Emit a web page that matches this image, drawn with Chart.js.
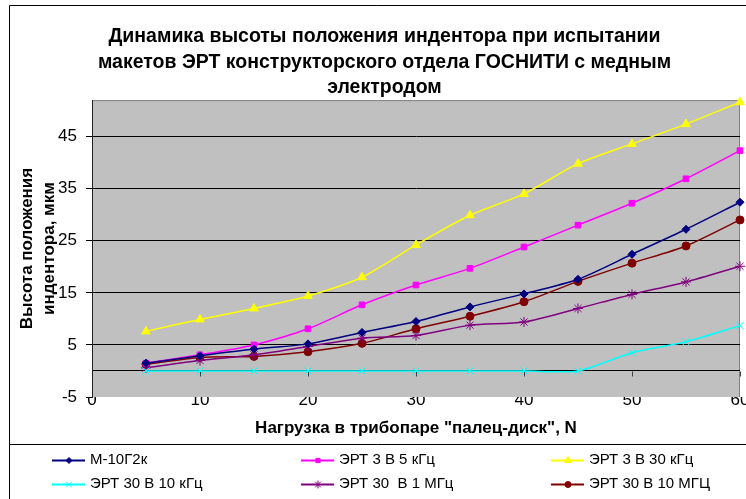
<!DOCTYPE html>
<html>
<head>
<meta charset="utf-8">
<script src="https://cdn.jsdelivr.net/npm/chart.js@4/dist/chart.umd.min.js"></script>
<style>
  html, body { margin: 0; padding: 0; background: #fff; }
  #wrap { width: 746px; height: 499px; }
</style>
</head>
<body>
<div id="wrap"><canvas id="chart" width="746" height="499"></canvas></div>
<script>
"use strict";

// нагрузка, N
var loads = [5, 10, 15, 20, 25, 30, 35, 40, 45, 50, 55, 60];

// высота положения индентора, мкм
var m10g2k   = [1.5, 2.9, 4.2, 5.2, 7.4, 9.5, 12.3, 14.8, 17.6, 22.4, 27.2, 32.4];
var ert3_5k  = [1.5, 3.1, 5.0, 8.1, 12.7, 16.5, 19.7, 23.8, 28.0, 32.2, 36.9, 42.3];
var ert3_30k = [7.6, 9.9, 12.0, 14.4, 18.0, 24.2, 29.9, 34.0, 39.8, 43.6, 47.4, 51.6];
var ert30_10k = [0, 0, 0, 0, 0, 0, 0, 0, 0, 3.5, 5.6, 8.7];
var ert30_1M  = [0.6, 2.0, 3.1, 4.7, 6.3, 6.8, 8.8, 9.4, 12.0, 14.7, 17.1, 20.1];
var ert30_10M = [1.3, 2.6, 2.8, 3.7, 5.3, 8.1, 10.5, 13.3, 17.2, 20.7, 24.0, 29.0];

var seriesNames = ["М-10Г2к", "ЭРТ 3 В 5 кГц", "ЭРТ 3 В 30 кГц",
                   "ЭРТ 30 В 10 кГц", "ЭРТ 30  В 1 МГц", "ЭРТ 30 В 10 МГЦ"];

var yTicks = [-5, 0, 5, 15, 25, 35, 45];
var xTicks = [0, 10, 20, 30, 40, 50, 60];

var FONT = "'Liberation Sans', Arial, sans-serif";

function toPoints(values) {
    return values.map(function(v, i) { return { x: loads[i], y: v }; });
}

function makeSet(label, values, color, style, radius) {
    return {
        label: label,
        data: toPoints(values),
        borderColor: color,
        backgroundColor: color,
        borderWidth: 1.5,
        pointStyle: style,
        pointRadius: radius,
        pointBorderColor: color,
        pointBackgroundColor: color,
        pointBorderWidth: 1,
        tension: 0.25,
        clip: false
    };
}

// серый фон области построения, рамка диаграммы, засечки на нулевой линии
var plotDecor = {
    id: "plotDecor",
    beforeDatasetsDraw: function(chart) {
        var ctx = chart.ctx;
        var xs = chart.scales.x, ys = chart.scales.y;
        var y0 = Math.round(ys.getPixelForValue(0)) + 0.5;
        ctx.save();
        ctx.strokeStyle = "#404040";
        ctx.lineWidth = 1;
        xTicks.forEach(function(t) {
            if (t === 0) return;
            var px = Math.round(xs.getPixelForValue(t)) + 0.5;
            ctx.beginPath();
            ctx.moveTo(px, y0);
            ctx.lineTo(px, y0 + 5);
            ctx.stroke();
        });
        ctx.restore();
    },
    beforeDraw: function(chart) {
        var ctx = chart.ctx, a = chart.chartArea;
        ctx.save();
        ctx.fillStyle = "#c0c0c0";
        ctx.fillRect(a.left, a.top, a.right - a.left, a.bottom - a.top);
        ctx.strokeStyle = "#808080";
        ctx.lineWidth = 1;
        ctx.beginPath();
        ctx.moveTo(a.left, a.top + 0.5);
        ctx.lineTo(a.right - 0.5, a.top + 0.5);
        ctx.lineTo(a.right - 0.5, a.bottom);
        ctx.stroke();
        // внешняя рамка
        ctx.strokeStyle = "#000";
        ctx.beginPath();
        ctx.moveTo(746, 5.5);
        ctx.lineTo(9.5, 5.5);
        ctx.lineTo(9.5, 499);
        ctx.stroke();
        ctx.beginPath();
        ctx.moveTo(9.5, 444.5);
        ctx.lineTo(746, 444.5);
        ctx.stroke();
        ctx.restore();
    }
};

// легенда в три колонки
var legendCols = [69, 318, 568];
var legendRows = [460, 484];
var gridLegend = {
    id: "gridLegend",
    afterDraw: function(chart) {
        var ctx = chart.ctx;
        ctx.save();
        chart.data.datasets.forEach(function(ds, i) {
            var cx = legendCols[i % 3];
            var cy = legendRows[Math.floor(i / 3)];
            ctx.strokeStyle = ds.borderColor;
            ctx.lineWidth = 2;
            ctx.beginPath();
            ctx.moveTo(cx - 17, cy + 0.5);
            ctx.lineTo(cx + 16, cy + 0.5);
            ctx.stroke();
            ctx.fillStyle = ds.pointBackgroundColor;
            ctx.lineWidth = 1;
            Chart.helpers.drawPoint(ctx, {
                pointStyle: ds.pointStyle,
                radius: ds.pointRadius - 1,
                rotation: 0,
                borderWidth: 1
            }, cx, cy + 0.5);
            ctx.fillStyle = "#000";
            ctx.font = "15px " + FONT;
            ctx.textAlign = "left";
            ctx.textBaseline = "middle";
            ctx.fillText(ds.label, cx + 21, cy);
        });
        ctx.restore();
    }
};

new Chart(document.getElementById("chart"), {
    type: "line",
    data: {
        datasets: [
            makeSet(seriesNames[0], m10g2k, "#000080", "rectRot", 4),
            makeSet(seriesNames[1], ert3_5k, "#ff00ff", "rect", 4),
            makeSet(seriesNames[2], ert3_30k, "#ffff00", "triangle", 5),
            makeSet(seriesNames[3], ert30_10k, "#00ffff", "crossRot", 5),
            makeSet(seriesNames[4], ert30_1M, "#800080", "star", 5),
            makeSet(seriesNames[5], ert30_10M, "#800000", "circle", 4)
        ]
    },
    options: {
        responsive: false,
        animation: false,
        layout: {
            padding: { left: 24, right: 1, top: 0, bottom: 54 }
        },
        scales: {
            x: {
                type: "linear",
                min: 0,
                max: 60,
                afterBuildTicks: function(scale) {
                    scale.ticks = xTicks.map(function(v) { return { value: v }; });
                },
                afterFit: function(scale) {
                    scale.paddingRight = 0;
                    scale.paddingLeft = 0;
                },
                grid: { display: false, drawTicks: false },
                border: { display: false },
                ticks: {
                    color: "#000",
                    padding: -7.2,
                    maxRotation: 0,
                    font: { family: FONT, size: 17 }
                },
                title: {
                    display: true,
                    text: "Нагрузка в трибопаре \"палец-диск\", N",
                    color: "#000",
                    font: { family: FONT, size: 17, weight: "bold" },
                    padding: { top: 14.8, bottom: 6.8 }
                }
            },
            y: {
                type: "linear",
                min: -5,
                max: 52,
                afterBuildTicks: function(scale) {
                    scale.ticks = yTicks.map(function(v) { return { value: v }; });
                },
                afterFit: function(scale) {
                    scale.width = 68;
                },
                grid: {
                    color: function(c) {
                        return c.tick && c.tick.value === -5 ? "rgba(0,0,0,0)" : "#000";
                    },
                    tickColor: function(c) {
                        return c.tick && c.tick.value === 0 ? "rgba(0,0,0,0)" : "#000";
                    },
                    tickLength: 6,
                    lineWidth: 1
                },
                border: { display: true, color: "#202020", width: 1 },
                ticks: {
                    color: "#000",
                    padding: 9,
                    font: { family: FONT, size: 17 },
                    callback: function(v) { return v === 0 ? "" : v; }
                },
                title: {
                    display: true,
                    text: ["Высота положения", "индентора, мкм"],
                    color: "#000",
                    font: { family: FONT, size: 17, weight: "bold", lineHeight: 1.3 },
                    padding: { top: -8, bottom: 0 }
                }
            }
        },
        plugins: {
            legend: { display: false },
            tooltip: { enabled: false },
            title: {
                display: true,
                text: ["Динамика высоты положения индентора при испытании",
                       "макетов ЭРТ конструкторского отдела ГОСНИТИ с медным",
                       "электродом"],
                color: "#000",
                font: { family: FONT, size: 19.5, weight: "bold", lineHeight: 1.31 },
                padding: { top: 24, bottom: -0.5 }
            }
        }
    },
    plugins: [plotDecor, gridLegend]
});
</script>
</body>
</html>
